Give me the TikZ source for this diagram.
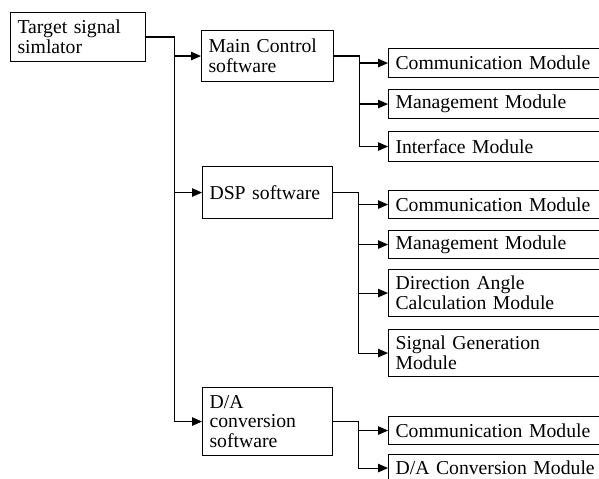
\documentclass[tikz,border=0pt]{standalone}
\usepackage{fontspec}
\setmainfont{Liberation Serif}
\usetikzlibrary{arrows.meta}
\begin{document}
\begin{tikzpicture}[x=1bp,y=-1bp]
    \tikzstyle{block}=[draw,line width=1.1bp,anchor=north west,align=left,inner xsep=7bp,inner ysep=0pt,font=\fontsize{19.7bp}{19.8bp}\selectfont]
    \tikzstyle{module}=[block,text width=200bp]
    \tikzstyle{link}=[line width=1.1bp,-{Triangle[length=10bp,width=8.5bp]}]
    \useasboundingbox (0,0) rectangle (599,479);
    \clip (0,0) rectangle (599,479);

    \node[block,text width=121bp,minimum height=49bp] (target) at (10,12) {Target signal\\simlator};
    \node[block,text width=118bp,minimum height=51bp] (main) at (201,30) {Main Control\\software};
    \node[block,text width=116bp,minimum height=52bp] (dsp) at (202,166) {DSP software};
    \node[block,text width=116bp,minimum height=68bp] (da) at (202,387) {D/A\\conversion\\software};

    % main control modules
    \node[module,minimum height=29bp] (main_comm) at (388,48) {Communication Module};
    \node[module,minimum height=29bp] (main_mgmt) at (388,89) {Management Module};
    \node[module,minimum height=30bp] (main_intf) at (388,131) {Interface Module};

    % dsp modules
    \node[module,minimum height=28bp] (dsp_comm) at (388,190) {Communication Module};
    \node[module,minimum height=28bp] (dsp_mgmt) at (388,230) {Management Module};
    \node[module,minimum height=47bp] (dsp_angle) at (388,269) {Direction Angle\\Calculation Module};
    \node[module,minimum height=47bp] (dsp_sig) at (388,329) {Signal Generation\\Module};

    % d/a modules
    \node[module,minimum height=28bp] (da_comm) at (388,416) {Communication Module};
    \node[module,minimum height=27bp] (da_conv) at (388,454) {D/A Conversion Module};

    \foreach \n in {main,dsp,da}
        \draw[link] (target.east) -- ++(28,0) |- (\n.west);
    \foreach \n in {main_comm,main_mgmt,main_intf}
        \draw[link] (main.east) -- ++(25,0) |- (\n.west);
    \foreach \n in {dsp_comm,dsp_mgmt,dsp_angle,dsp_sig}
        \draw[link] (dsp.east) -- ++(25,0) |- (\n.west);
    \foreach \n in {da_comm,da_conv}
        \draw[link] (da.east) -- ++(25,0) |- (\n.west);
\end{tikzpicture}
\end{document}
